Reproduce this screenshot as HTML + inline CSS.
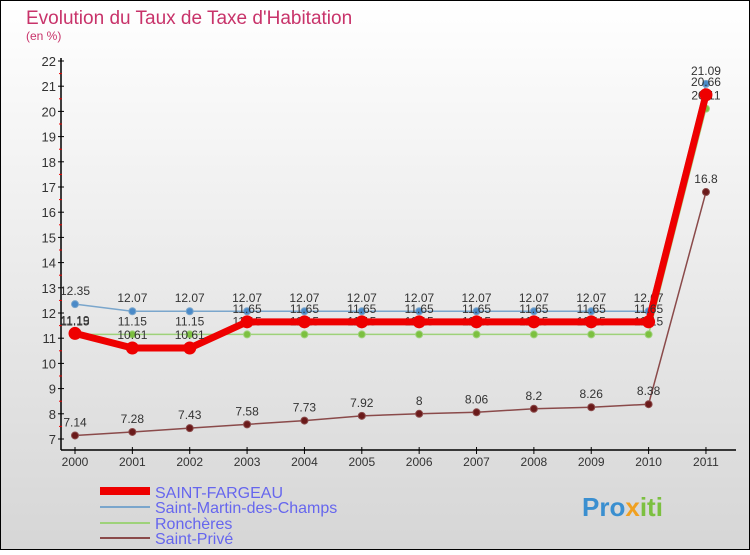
<!DOCTYPE html>
<html><head><meta charset="utf-8"><style>
html,body{margin:0;padding:0}
body{width:750px;height:550px;overflow:hidden;font-family:"Liberation Sans",sans-serif}
</style></head><body>
<svg id="chart" width="750" height="550" xmlns="http://www.w3.org/2000/svg" font-family="Liberation Sans, sans-serif">
<defs><linearGradient id="bg" x1="0" y1="0" x2="0" y2="1"><stop offset="0" stop-color="#ffffff"/><stop offset="1" stop-color="#d6d6d6"/></linearGradient></defs>
<rect x="0.5" y="0.5" width="749" height="549" fill="url(#bg)" stroke="#000"/>
<text x="26" y="24" font-size="19" fill="#c8336a">Evolution du Taux de Taxe d'Habitation</text>
<text x="26" y="40" font-size="12" fill="#c8336a">(en %)</text>
<g id="axes"></g>
<g id="series"></g>
<g>
<rect x="100" y="487" width="50" height="8" fill="#e00"/>
<text x="155" y="498" font-size="16" fill="#6666ee">SAINT-FARGEAU</text>
<rect x="100" y="506" width="50" height="2" fill="#7aa6cc"/>
<text x="155" y="513" font-size="16" fill="#6666ee">Saint-Martin-des-Champs</text>
<rect x="100" y="522" width="50" height="2" fill="#9ed27a"/>
<text x="155" y="529" font-size="16" fill="#6666ee">Ronchères</text>
<rect x="100" y="537" width="50" height="2" fill="#8a4a4a"/>
<text x="155" y="544" font-size="16" fill="#6666ee">Saint-Privé</text>
</g>
<text x="582" y="516" font-size="26" font-weight="bold" fill="#3a8fd0">Pro<tspan fill="#f0a020">x</tspan><tspan fill="#7cc040">iti</tspan></text>
</svg>
<script>
const years=["2000","2001","2002","2003","2004","2005","2006","2007","2008","2009","2010","2011"];
const yTicks=[7,8,9,10,11,12,13,14,15,16,17,18,19,20,21,22];
const saintFargeau=[11.19,10.61,10.61,11.65,11.65,11.65,11.65,11.65,11.65,11.65,11.65,20.66];
const saintMartin=[12.35,12.07,12.07,12.07,12.07,12.07,12.07,12.07,12.07,12.07,12.07,21.09];
const roncheres=[11.15,11.15,11.15,11.15,11.15,11.15,11.15,11.15,11.15,11.15,11.15,20.11];
const saintPrive=[7.14,7.28,7.43,7.58,7.73,7.92,8,8.06,8.2,8.26,8.38,16.8];
const NS="http://www.w3.org/2000/svg";
const X=i=>75+i*57.36;
const Y=v=>439-(v-7)*25.2;
function mk(tag,attrs,parent){const e=document.createElementNS(NS,tag);for(const k in attrs)e.setAttribute(k,attrs[k]);parent.appendChild(e);return e;}
const ax=document.getElementById('axes');
let l=mk('line',{x1:61,y1:58,x2:61,y2:450,stroke:'#000','stroke-width':1.5},ax);


l=mk('line',{x1:61,y1:450,x2:736,y2:450,stroke:'#000','stroke-width':1.5},ax);


yTicks.forEach(v=>{
  const t=mk('line',{x1:58,y1:Y(v),x2:64,y2:Y(v),stroke:'#000'},ax);
  
  
  if(v<22){const m=mk('line',{x1:59,y1:Y(v+0.5),x2:62,y2:Y(v+0.5),stroke:'#e00'},ax);
  
  }
  const tx=mk('text',{x:56,y:Y(v)+5,'font-size':13,'text-anchor':'end',fill:'#333'},ax);
  
  
  tx.textContent=v;
});
years.forEach((yr,i)=>{
  const t=mk('line',{x1:X(i),y1:447,x2:X(i),y2:454,stroke:'#000'},ax);
  
  
  const tx=mk('text',{x:X(i),y:466,'font-size':12,'text-anchor':'middle',fill:'#333'},ax);
  
  
  tx.textContent=yr;
});
const sg=document.getElementById('series');
function series(name,data,color,w,r,dot){
  const g=mk('g',{},sg);
  
  
  const p=mk('polyline',{points:data.map((v,i)=>X(i)+','+Y(v)).join(' '),fill:'none',stroke:color,'stroke-width':w,'stroke-linejoin':'round'},g);
  
  
  data.forEach((v,i)=>{
    const c=mk('circle',{cx:X(i),cy:Y(v),r:r,fill:dot,stroke:color,'stroke-width':1},g);
    
    
    const t=mk('text',{x:X(i),y:Y(v)-9,'font-size':12,'text-anchor':'middle',fill:'#333'},g);
    
    
    t.textContent=v;
  });
}
series('saint-prive',saintPrive,'#8a4a4a',1.5,3.5,'#6a1a1a');
series('roncheres',roncheres,'#9ed27a',1.5,3.5,'#7cc040');
series('saint-martin',saintMartin,'#7aa6cc',1.5,3.5,'#4a8ac8');
series('saint-fargeau',saintFargeau,'#e00',7,6,'#e00');
</script>
</body></html>
